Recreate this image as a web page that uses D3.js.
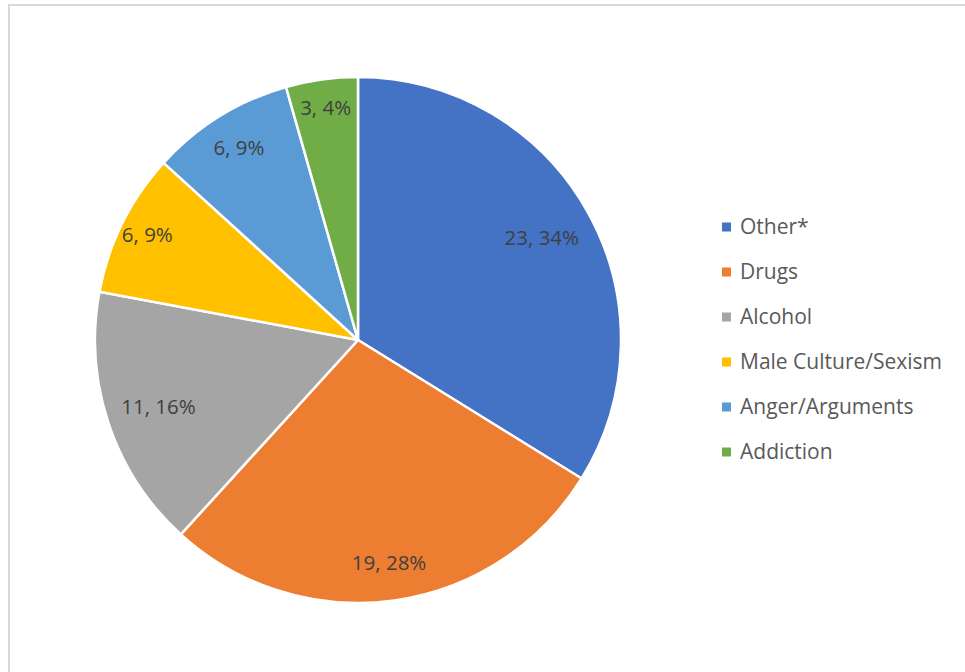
<!DOCTYPE html>
<html>
<head>
<meta charset="utf-8">
<script src="https://cdn.jsdelivr.net/npm/d3@7"></script>
<style>
  body { margin: 0; background: #fff; }
  text { font-family: "Open Sans", Lato, sans-serif; }
</style>
</head>
<body>
<div id="chart"></div>
<script>
categories = ["Other*", "Drugs", "Alcohol", "Male Culture/Sexism", "Anger/Arguments", "Addiction"]
counts = [23, 19, 11, 6, 6, 3]
percents = ["34%", "28%", "16%", "9%", "9%", "4%"]
colors = ["#4472C4", "#ED7D31", "#A5A5A5", "#FFC000", "#5B9BD5", "#70AD47"]

width = 965
height = 672
cx = 358
cy = 340
radius = 263
// how far out (fraction of radius) each data label sits, like Excel's best fit
labelFrac = [0.80, 0.855, 0.80, 0.895, 0.86, 0.89]

svg = d3.select("#chart").append("svg")
  .attr("width", width)
  .attr("height", height)

// chart area border (runs off the right and bottom)
svg.append("rect")
  .attr("x", 9).attr("y", 5)
  .attr("width", width + 10).attr("height", height + 10)
  .attr("fill", "#fff")
  .attr("stroke", "#d9d9d9")
  .attr("stroke-width", 2)

data = categories.map(function(c, i) {
  return { name: c, value: counts[i], pct: percents[i], color: colors[i] }
})

pie = d3.pie().sort(null).value(function(d) { return d.value })
arcs = pie(data)

arc = d3.arc().innerRadius(0).outerRadius(radius)

g = svg.append("g").attr("transform", "translate(" + cx + "," + cy + ")")

g.selectAll(".slice")
  .data(arcs).enter()
  .append("path")
  .attr("class", "slice")
  .attr("d", arc)
  .attr("fill", function(d) { return d.data.color })
  .attr("stroke", "#fff")
  .attr("stroke-width", 2.5)
  .attr("stroke-linejoin", "round")

g.selectAll(".lbl")
  .data(arcs).enter()
  .append("text")
  .attr("class", "lbl")
  .attr("transform", function(d, i) {
    var r = radius * labelFrac[i]
    var a = (d.startAngle + d.endAngle) / 2
    return "translate(" + (Math.sin(a) * r) + "," + (-Math.cos(a) * r) + ")"
  })
  .attr("text-anchor", "middle")
  .attr("dy", "0.35em")
  .attr("font-size", 20.5)
  .attr("fill", "#404040")
  .text(function(d) { return d.data.value + ", " + d.data.pct })

legend = svg.append("g").attr("transform", "translate(722,227)")
items = legend.selectAll(".item")
  .data(data).enter()
  .append("g")
  .attr("transform", function(d, i) { return "translate(0," + (i * 45) + ")" })

items.append("rect")
  .attr("x", 0).attr("y", -4.5)
  .attr("width", 9).attr("height", 9)
  .attr("fill", function(d) { return d.color })

items.append("text")
  .attr("x", 18)
  .attr("dy", "0.35em")
  .attr("font-size", 21)
  .attr("fill", "#595959")
  .text(function(d) { return d.name })
</script>
</body>
</html>
